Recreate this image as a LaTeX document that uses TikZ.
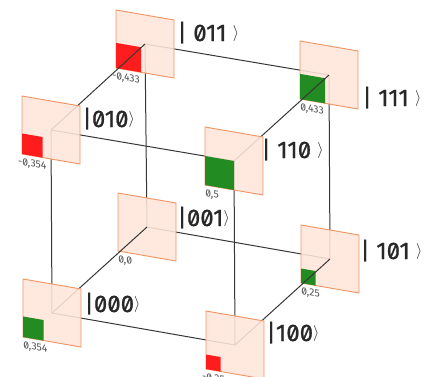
\documentclass[tikz,border=0pt]{standalone}
\usepackage{fontspec}
\setmainfont{Fira Sans}
\newfontfamily\ketfont[RawFeature=+zero,FakeBold=0.8]{Fira Sans}
\newfontfamily\valfont[RawFeature=+zero]{Fira Sans}
\usetikzlibrary{calc}
\definecolor{panelfill}{RGB}{255,229,216}
\definecolor{paneledge}{RGB}{240,150,100}
\definecolor{posgreen}{RGB}{34,139,34}
\definecolor{negred}{RGB}{255,28,28}
\definecolor{edgegray}{RGB}{55,55,55}
\definecolor{valgray}{RGB}{80,80,80}
\definecolor{kettext}{RGB}{40,40,40}
\newcommand\ketend{\raisebox{3pt}{\fontsize{13}{13}\selectfont$\rangle$}}
\tikzset{
  cubeedge/.style={draw=edgegray, line width=0.75pt},
  panelbox/.style={fill=panelfill, fill opacity=0.88, draw=paneledge, line width=0.7pt},
  ampsquare/.style={fill=#1, draw=none},
  ketlabel/.style={anchor=base west, inner sep=0pt, text=kettext,
    font=\ketfont\fontsize{18}{18}\selectfont},
  vallabel/.style={anchor=north west, inner sep=0pt, text=valgray, yslant=-0.17,
    font=\valfont\fontsize{7.8}{8}\selectfont},
}
% #1 vertex, #2 amplitude magnitude, #3 colour, #4 value text
\newcommand\qpanel[4]{%
  \path[panelbox] ($(#1)+(-29,-34)$) -- ($(#1)+(29,-24)$) -- ($(#1)+(29,34)$) -- ($(#1)+(-29,24)$) -- cycle;
  \path[ampsquare=#3] ($(#1)+(-29,24)$) -- ++({#2*58},{#2*10}) -- ++(0,{-#2*58}) -- ++({-#2*58},{-#2*10}) -- cycle;
  \node[vallabel] (val#1) at ($(#1)+(-29,28)$) {#4};
}
\begin{document}
\begin{tikzpicture}[x=0.75pt,y=-0.75pt]
\useasboundingbox (0,0) rectangle (433,376);
\coordinate (v000) at (52,313);
\coordinate (v100) at (235,345);
\coordinate (v010) at (51,130);
\coordinate (v110) at (234,161);
\coordinate (v001) at (147,227);
\coordinate (v101) at (330,259);
\coordinate (v011) at (145,44);
\coordinate (v111) at (329,75);
% back face edges
\draw[cubeedge] (v001) -- (v101);
\draw[cubeedge] (v101) -- (v111);
\draw[cubeedge] (v111) -- (v011);
\draw[cubeedge] (v011) -- (v001);
% back panels
\qpanel{v001}{0}{posgreen}{0,0}
\qpanel{v101}{0.25}{posgreen}{0,25}
\qpanel{v011}{0.433}{negred}{\llap{-}0,433}
\qpanel{v111}{0.433}{posgreen}{0,433}
% depth edges
\draw[cubeedge] (v000) -- (v001);
\draw[cubeedge] (v100) -- (v101);
\draw[cubeedge] (v010) -- (v011);
\draw[cubeedge] (v110) -- (v111);
% front face edges
\draw[cubeedge] (v000) -- (v100);
\draw[cubeedge] (v100) -- (v110);
\draw[cubeedge] (v110) -- (v010);
\draw[cubeedge] (v010) -- (v000);
% front panels
\qpanel{v000}{0.354}{posgreen}{0,354}
\qpanel{v100}{0.25}{negred}{\llap{-}0,25}
\qpanel{v010}{0.354}{negred}{\llap{-}0,354}
\qpanel{v110}{0.5}{posgreen}{0,5}
% ket labels
\node[ketlabel] (k011) at (177,41) {| 011 \ketend};
\node[ketlabel] (k111) at (362,106) {| 111 \ketend};
\node[ketlabel] (k010) at (82,127) {|010\ketend};
\node[ketlabel] (k110) at (261,158) {| 110 \ketend};
\node[ketlabel] (k001) at (177,226) {|001\ketend};
\node[ketlabel] (k101) at (360,259) {| 101 \ketend};
\node[ketlabel] (k000) at (84,312) {|000\ketend};
\node[ketlabel] (k100) at (266,341) {|100\ketend};
\end{tikzpicture}
\end{document}
